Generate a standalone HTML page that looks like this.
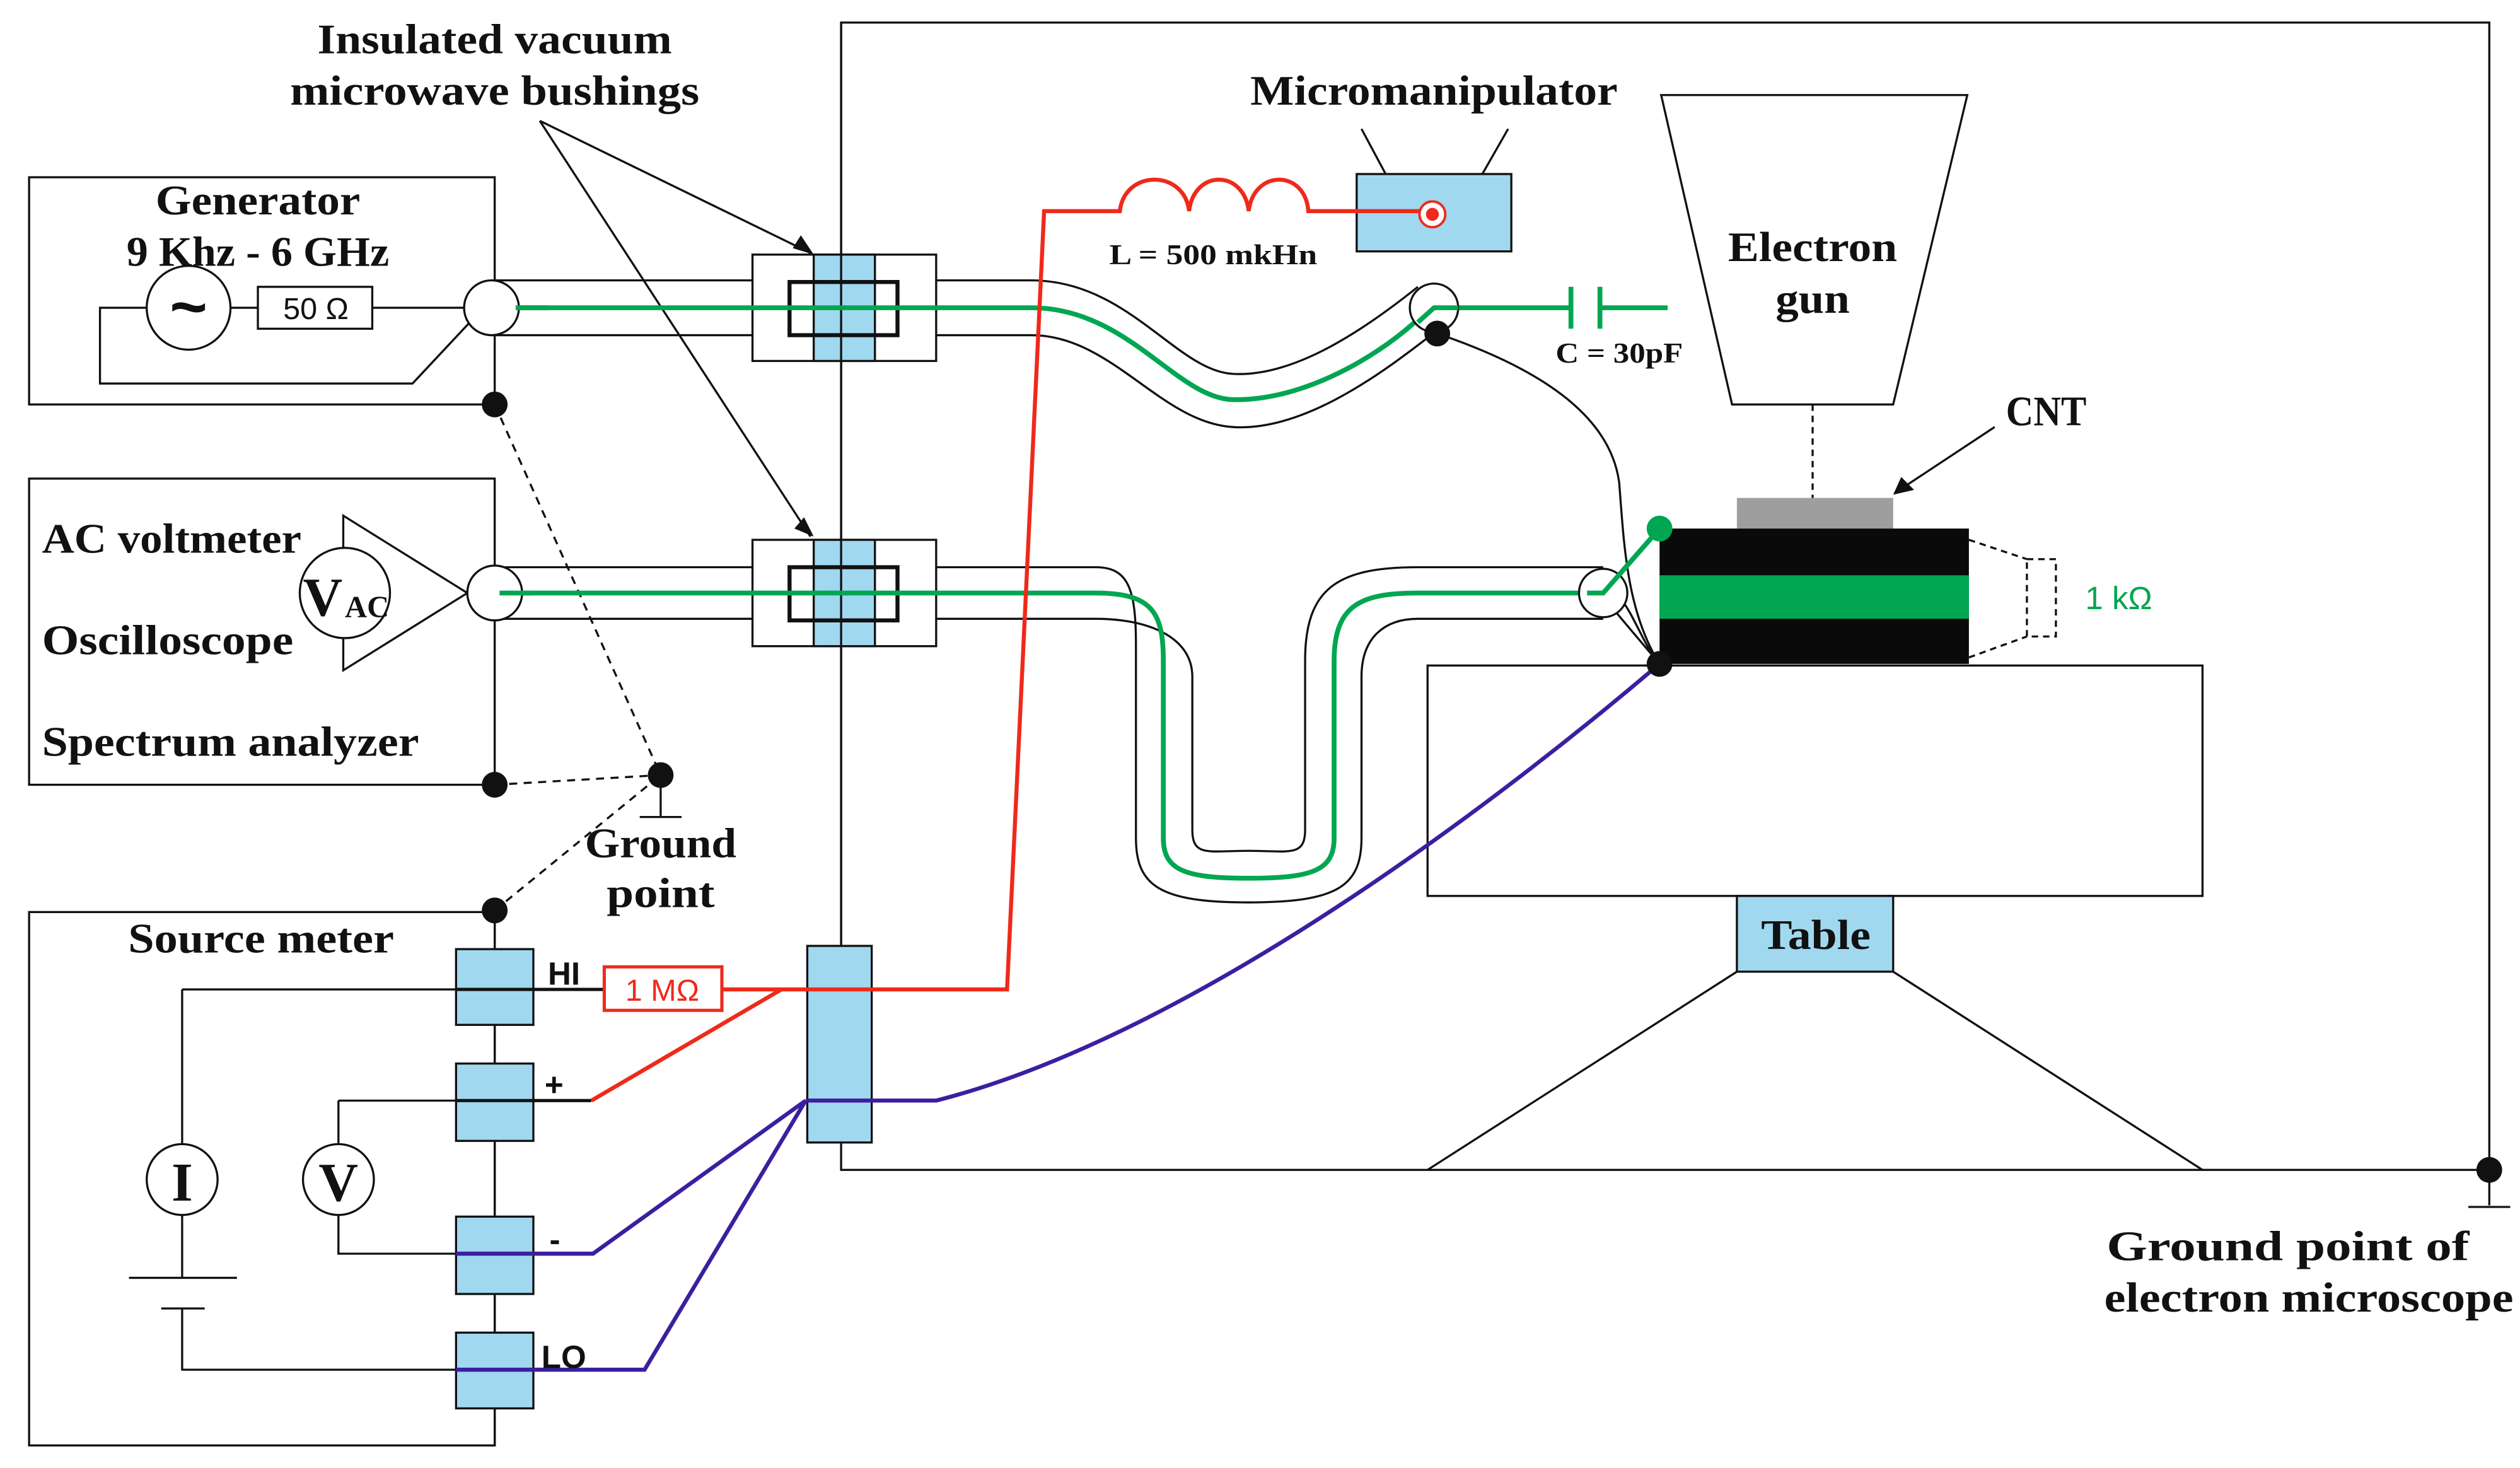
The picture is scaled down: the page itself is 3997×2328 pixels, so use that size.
<!DOCTYPE html>
<html><head><meta charset="utf-8"><style>
html,body{margin:0;padding:0;background:#fff}
svg{display:block}
.t{font-family:"Liberation Serif",serif;font-weight:bold;font-size:26px;fill:#111;text-anchor:middle}
.l{font-family:"Liberation Serif",serif;font-weight:bold;font-size:26px;fill:#111}
.s{font-family:"Liberation Sans",sans-serif;font-weight:bold;font-size:20px;fill:#111}
</style></head><body>
<svg width="3997" height="2328" viewBox="0 0 1564 911" xmlns="http://www.w3.org/2000/svg">
<g fill="none" stroke="#111" stroke-width="1.3">
<rect x="522" y="14" width="1023" height="712"/>
<rect x="18" y="110" width="289" height="141"/>
<circle cx="117" cy="191" r="26"/>
<rect x="160" y="178" width="71" height="26"/>
<path d="M91 191 H62 V238 H256 L300 191"/>
<path d="M143 191 H160 M231 191 H290"/>
<rect x="18" y="297" width="289" height="190"/>
<path d="M213 320 L290 368 L213 416 Z"/>
<circle cx="214" cy="368" r="28" fill="#fff"/>
<rect x="18" y="566" width="289" height="331"/>
<line x1="307" y1="566" x2="307" y2="897"/>
<path d="M307 251 L410 481 M307 487 L410 481 M307 565 L410 481" stroke-dasharray="5,4"/>
<path d="M410 481 V507 M397 507 H423"/>
<path d="M113 614 H283 M113 614 V710 M113 754 V793 M80 793 H147 M100 812 H127 M113 812 V850 H283"/>
<path d="M210 683 H283 M210 683 V710 M210 754 V778 H283"/>
<circle cx="113" cy="732" r="22" fill="#fff"/>
<circle cx="210" cy="732" r="22" fill="#fff"/>
<path d="M335 75 L503 157 M335 75 L503 333"/>
<path d="M860 108 L845 80 M920 108 L936 80"/>
<path d="M305 174 H640 C700 174 730 230 765 232 C800 234 840 210 880 178"/>
<path d="M305 208 H640 C690 208 720 262 765 265 C810 268 860 230 892 205"/>
<path d="M307 352 H680 C700 352 705 365 705 400 V520 C705 550 720 560 775 560 C830 560 845 550 845 520 V420 C845 395 860 384 880 384 H995"/>
<path d="M307 384 H680 C712 384 740 395 740 420 V515 C740 532 750 528 775 528 C800 528 810 532 810 515 V410 C810 365 830 352 880 352 H995"/>
<path d="M892 207 C960 230 1000 260 1005 300 C1008 340 1010 380 1030 412"/>
<path d="M985 360 C1010 360 1015 395 1030 412 M1003 380 L1030 412"/>
<rect x="467" y="158" width="114" height="66" fill="#fff"/>
<rect x="467" y="335" width="114" height="66" fill="#fff"/>
<path d="M1031 59 H1221 L1175 251 H1075 Z"/>
<path d="M1125 251 V309" stroke-dasharray="4,3"/>
<line x1="1238" y1="265" x2="1182" y2="302"/>
<path d="M1222 335 L1258 347 M1222 408 L1258 395" stroke-dasharray="4,3"/>
<rect x="1258" y="347" width="18" height="48" stroke-dasharray="4,3"/>
<rect x="886" y="413" width="481" height="143"/>
<path d="M1078 603 L886 726 M1175 603 L1367 726"/>
<path d="M1545 726 V748 M1532 749 H1558"/>
</g>
<polygon points="1175,307 1180,296 1188,304" fill="#111"/>
<polygon points="505,158 492,154 497,146" fill="#111"/>
<polygon points="505,333 493,328 499,321" fill="#111"/>
<g fill="#a0d8ef" stroke="#111" stroke-width="1.3">
<rect x="505" y="158" width="38" height="66"/>
<rect x="505" y="335" width="38" height="66"/>
<rect x="501" y="587" width="40" height="122"/>
<rect x="283" y="589" width="48" height="47"/>
<rect x="283" y="660" width="48" height="48"/>
<rect x="283" y="755" width="48" height="48"/>
<rect x="283" y="827" width="48" height="47"/>
<rect x="842" y="108" width="96" height="48"/>
<rect x="1078" y="556" width="97" height="47"/>
</g>
<line x1="522" y1="14" x2="522" y2="587" stroke="#111" stroke-width="1.3"/>
<g fill="none" stroke="#111" stroke-width="2.5">
<rect x="490" y="175" width="67" height="33"/>
<rect x="490" y="352" width="67" height="33"/>
</g>
<g stroke="#111" stroke-width="2" fill="none"><path d="M283 614 H375 M283 683 H367"/></g>
<g stroke="#00a651" stroke-width="3" fill="none">
<path d="M320 191 H640 C700 191 730 247 765 248 C805 249 850 225 878 200"/>
<path d="M905 191 H975 M993 191 H1035 M975 178 V204 M993 178 V204"/>
<path d="M310 368 H680 C715 368 722 380 722 410 V520 C722 540 735 545 775 545 C815 545 828 540 828 520 V410 C828 375 845 368 880 368 H995 L1030 328"/>
</g>
<g stroke="#ee2a1b" stroke-width="2.5" fill="none">
<path d="M367 683 L485 614 M448 614 H625 L648 131 H695 C698 105 735 105 738 131 C741 105 772 105 775 131 C778 105 810 105 812 131 H885"/>
</g>
<rect x="375" y="600" width="73" height="27" fill="#fff" stroke="#ee2a1b" stroke-width="2"/>
<text x="411" y="621" font-family="Liberation Sans,sans-serif" font-size="19" fill="#ee2a1b" text-anchor="middle">1 MΩ</text>
<circle cx="889" cy="133" r="8" fill="#fff" stroke="#ee2a1b" stroke-width="1.5"/>
<circle cx="889" cy="133" r="4" fill="#ee2a1b"/>
<g stroke="#3b1fa0" stroke-width="2.5" fill="none">
<path d="M283 778 H368 L500 683 M283 850 H400 L500 683 M500 683 H581 C750 640 950 480 1030 412"/>
</g>
<g fill="#fff" stroke="#111" stroke-width="1.3">
<circle cx="305" cy="191" r="17"/>
<circle cx="307" cy="368" r="17"/>
<circle cx="890" cy="191" r="15"/>
<circle cx="995" cy="368" r="15"/>
</g>
<path d="M320 191 H340 M310 368 H330 M985 368 H995 L1030 328 M880 200 L890 191 H905" stroke="#00a651" stroke-width="3" fill="none"/>
<rect x="1078" y="309" width="97" height="19" fill="#9e9e9e"/>
<rect x="1030" y="328" width="192" height="84" fill="#0a0a0a"/>
<rect x="1030" y="357" width="192" height="27" fill="#00a651"/>
<g fill="#111">
<circle cx="307" cy="251" r="8"/><circle cx="307" cy="487" r="8"/><circle cx="307" cy="565" r="8"/>
<circle cx="410" cy="481" r="8"/><circle cx="892" cy="207" r="8"/><circle cx="1030" cy="412" r="8"/>
<circle cx="1545" cy="726" r="8"/>
</g>
<circle cx="1030" cy="328" r="8" fill="#00a651"/>
<text class="t" x="307" y="33" textLength="220" lengthAdjust="spacingAndGlyphs">Insulated vacuum</text>
<text class="t" x="307" y="65" textLength="254" lengthAdjust="spacingAndGlyphs">microwave bushings</text>
<text class="t" x="160" y="133" textLength="127" lengthAdjust="spacingAndGlyphs">Generator</text>
<text class="t" x="160" y="165" textLength="163" lengthAdjust="spacingAndGlyphs">9 Khz - 6 GHz</text>
<text x="117" y="204" font-family="Liberation Sans,sans-serif" font-weight="bold" font-size="40" text-anchor="middle" fill="#111">~</text>
<text x="196" y="198" font-family="Liberation Sans,sans-serif" font-size="19" text-anchor="middle" fill="#111">50 Ω</text>
<text class="l" x="26" y="343" textLength="161" lengthAdjust="spacingAndGlyphs">AC voltmeter</text>
<text class="l" x="26" y="406" textLength="156" lengthAdjust="spacingAndGlyphs">Oscilloscope</text>
<text class="l" x="26" y="469" textLength="234" lengthAdjust="spacingAndGlyphs">Spectrum analyzer</text>
<text x="188" y="382" font-family="Liberation Serif,serif" font-weight="bold" font-size="34" fill="#111">V</text>
<text x="214" y="383" font-family="Liberation Serif,serif" font-weight="bold" font-size="19" fill="#111">AC</text>
<text class="t" x="410" y="532" textLength="94" lengthAdjust="spacingAndGlyphs">Ground</text>
<text class="t" x="410" y="563" textLength="67" lengthAdjust="spacingAndGlyphs">point</text>
<text class="t" x="162" y="591" textLength="165" lengthAdjust="spacingAndGlyphs">Source meter</text>
<text class="s" x="340" y="611">HI</text>
<text class="s" x="338" y="680">+</text>
<text class="s" x="341" y="776">-</text>
<text class="s" x="336" y="849">LO</text>
<text x="113" y="745" font-family="Liberation Serif,serif" font-weight="bold" font-size="34" text-anchor="middle" fill="#111">I</text>
<text x="210" y="745" font-family="Liberation Serif,serif" font-weight="bold" font-size="34" text-anchor="middle" fill="#111">V</text>
<text class="t" x="890" y="65" textLength="228" lengthAdjust="spacingAndGlyphs">Micromanipulator</text>
<text x="753" y="164" font-family="Liberation Serif,serif" font-weight="bold" font-size="18" text-anchor="middle" fill="#111" textLength="129" lengthAdjust="spacingAndGlyphs">L = 500 mkHn</text>
<text x="1005" y="225" font-family="Liberation Serif,serif" font-weight="bold" font-size="18" text-anchor="middle" fill="#111" textLength="79" lengthAdjust="spacingAndGlyphs">C = 30pF</text>
<text class="t" x="1125" y="162" textLength="105" lengthAdjust="spacingAndGlyphs">Electron</text>
<text class="t" x="1125" y="194" textLength="46" lengthAdjust="spacingAndGlyphs">gun</text>
<text class="t" x="1270" y="264" textLength="50" lengthAdjust="spacingAndGlyphs">CNT</text>
<text x="1315" y="378" font-family="Liberation Sans,sans-serif" font-size="20" text-anchor="middle" fill="#00a651">1 kΩ</text>
<text class="t" x="1127" y="589" textLength="68" lengthAdjust="spacingAndGlyphs">Table</text>
<text class="t" x="1420" y="782" textLength="225" lengthAdjust="spacingAndGlyphs">Ground point of</text>
<text class="t" x="1433" y="814" textLength="254" lengthAdjust="spacingAndGlyphs">electron microscope</text>
</svg>
</body></html>
